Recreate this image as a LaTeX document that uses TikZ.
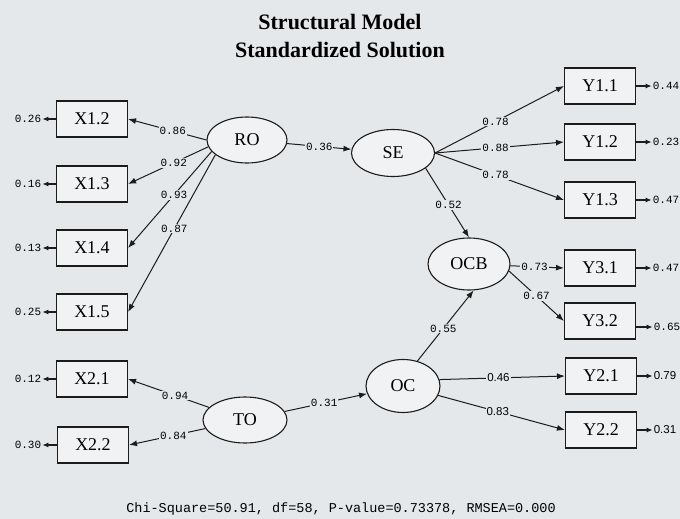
\documentclass[tikz,border=0pt]{standalone}
\usepackage{fontspec}
\setmainfont{Liberation Serif}
\setsansfont{Liberation Sans}
\setmonofont{Liberation Mono}
\usetikzlibrary{arrows.meta,positioning,shapes.geometric}
\definecolor{Paper}{HTML}{E5E8EB}
\definecolor{BoxFill}{HTML}{F1F2F4}
\definecolor{Ink}{HTML}{1C1C1C}

\begin{document}
\begin{tikzpicture}[x=1pt,y=-1pt,>=Latex]
    \tikzset{
      obs/.style={draw=Ink,fill=BoxFill,line width=1.1pt,minimum width=71pt,minimum height=36pt,
                  inner sep=0pt,font=\fontsize{18}{18}\selectfont},
      latent/.style={ellipse,draw=Ink,fill=BoxFill,line width=1.1pt,inner sep=0pt,
                  font=\fontsize{18}{18}\selectfont},
      lab/.style={fill=Paper,inner sep=1pt,font=\fontsize{11}{11}\ttfamily},
      labsf/.style={fill=Paper,inner sep=1pt,font=\fontsize{11.5}{11.5}\sffamily},
      err/.style={inner sep=1pt,font=\fontsize{11}{11}\ttfamily},
      errsf/.style={inner sep=1pt,font=\fontsize{11.5}{11.5}\sffamily},
      arr/.style={-{Latex[length=8pt,width=6pt]},draw=Ink,line width=1pt},
      earr/.style={-{Latex[length=6pt,width=5pt]},draw=Ink,line width=1.1pt}
    }
    \useasboundingbox[fill=Paper] (0,0) rectangle (680,519);

    \node[font=\fontsize{22}{28}\selectfont\bfseries,align=center] (title) at (340,36)
          {Structural Model\\Standardized Solution};

    % observed variables, left
    \node[obs] (X12) at (92,119) {X1.2};
    \node[obs] (X13) at (92,184) {X1.3};
    \node[obs] (X14) at (92,248) {X1.4};
    \node[obs] (X15) at (92,312) {X1.5};
    \node[obs] (X21) at (92,379) {X2.1};
    \node[obs] (X22) at (93,445) {X2.2};

    % observed variables, right
    \node[obs] (Y11) at (600,86) {Y1.1};
    \node[obs] (Y12) at (600,142) {Y1.2};
    \node[obs] (Y13) at (600,200) {Y1.3};
    \node[obs] (Y31) at (600,268) {Y3.1};
    \node[obs] (Y32) at (600,321) {Y3.2};
    \node[obs] (Y21) at (601,376) {Y2.1};
    \node[obs] (Y22) at (601,430) {Y2.2};

    % latent variables
    \node[latent,minimum width=80pt,minimum height=46pt] (RO) at (247,140) {RO};
    \node[latent,minimum width=83pt,minimum height=47pt] (SE) at (393,153) {SE};
    \node[latent,minimum width=82pt,minimum height=52pt] (OCB) at (469,264) {OCB};
    \node[latent,minimum width=74pt,minimum height=53pt] (OC) at (403,386) {OC};
    \node[latent,minimum width=84pt,minimum height=46pt] (TO) at (245,420) {TO};

    % error variances
    \node[err] (eX12) at (28,119) {0.26};
    \node[err] (eX13) at (28,184) {0.16};
    \node[err] (eX14) at (28,248) {0.13};
    \node[err] (eX15) at (28,312) {0.25};
    \node[err] (eX21) at (28,379) {0.12};
    \node[err] (eX22) at (28,445) {0.30};
    \foreach \v in {X12,X13,X14,X15,X21,X22}
      \draw[earr] (\v) -- (e\v);

    \node[err] (eY11) at (666,86) {0.44};
    \node[err] (eY12) at (666,142) {0.23};
    \node[err] (eY13) at (666,200) {0.47};
    \node[err] (eY31) at (666,268) {0.47};
    \node[err] (eY32) at (667,327) {0.65};
    \node[errsf] (eY21) at (665,376) {0.79};
    \node[errsf] (eY22) at (665,430) {0.31};
    \foreach \v in {Y11,Y12,Y13,Y31,Y21,Y22}
      \draw[earr] (\v) -- (e\v);
    \draw[earr] (Y32.east |- eY32) -- (eY32);

    % loadings
    \draw[arr] (RO.180) -- node[lab,pos=0.43] {0.86} (X12.east);
    \draw[arr] (RO.190) -- node[lab,pos=0.43] {0.92} (X13.east);
    \draw[arr] (RO.198) -- node[lab,pos=0.45] {0.93} (X14.east);
    \draw[arr] (RO.205) -- node[lab,pos=0.47] {0.87} (X15.east);
    \draw[arr] (TO) -- node[lab,pos=0.42] {0.94} (X21.east);
    \draw[arr] (TO) -- node[lab,pos=0.42] {0.84} (X22.east);
    \draw[arr] (SE.east) -- node[lab,pos=0.47] {0.78} (Y11.west);
    \draw[arr] (SE.east) -- node[lab,pos=0.47] {0.88} (Y12.west);
    \draw[arr] (SE.east) -- node[lab,pos=0.47] {0.78} (Y13.west);
    \draw[arr] (OCB) -- node[lab,pos=0.45] {0.73} (Y31.west);
    \draw[arr] (OCB.-10) -- node[lab,pos=0.5] {0.67} (Y32.west);
    \draw[arr] (OC.10) -- node[labsf,pos=0.47] {0.46} (Y21.west);
    \draw[arr] (OC.-15) -- node[labsf,pos=0.47] {0.83} (Y22.west);

    % structural paths
    \draw[arr] (RO) -- node[lab,pos=0.5] {0.36} (SE);
    \draw[arr] (SE.-25) -- node[lab,pos=0.53] {0.52} (OCB.north);
    \draw[arr] (OC.60) -- node[lab,pos=0.46] {0.55} (OCB.-80);
    \draw[arr] (TO) -- node[lab,pos=0.48] {0.31} (OC);

    \node[font=\fontsize{13.5}{13.5}\ttfamily] (fitline) at (341,509)
          {Chi-Square=50.91, df=58, P-value=0.73378, RMSEA=0.000};
\end{tikzpicture}
\end{document}
